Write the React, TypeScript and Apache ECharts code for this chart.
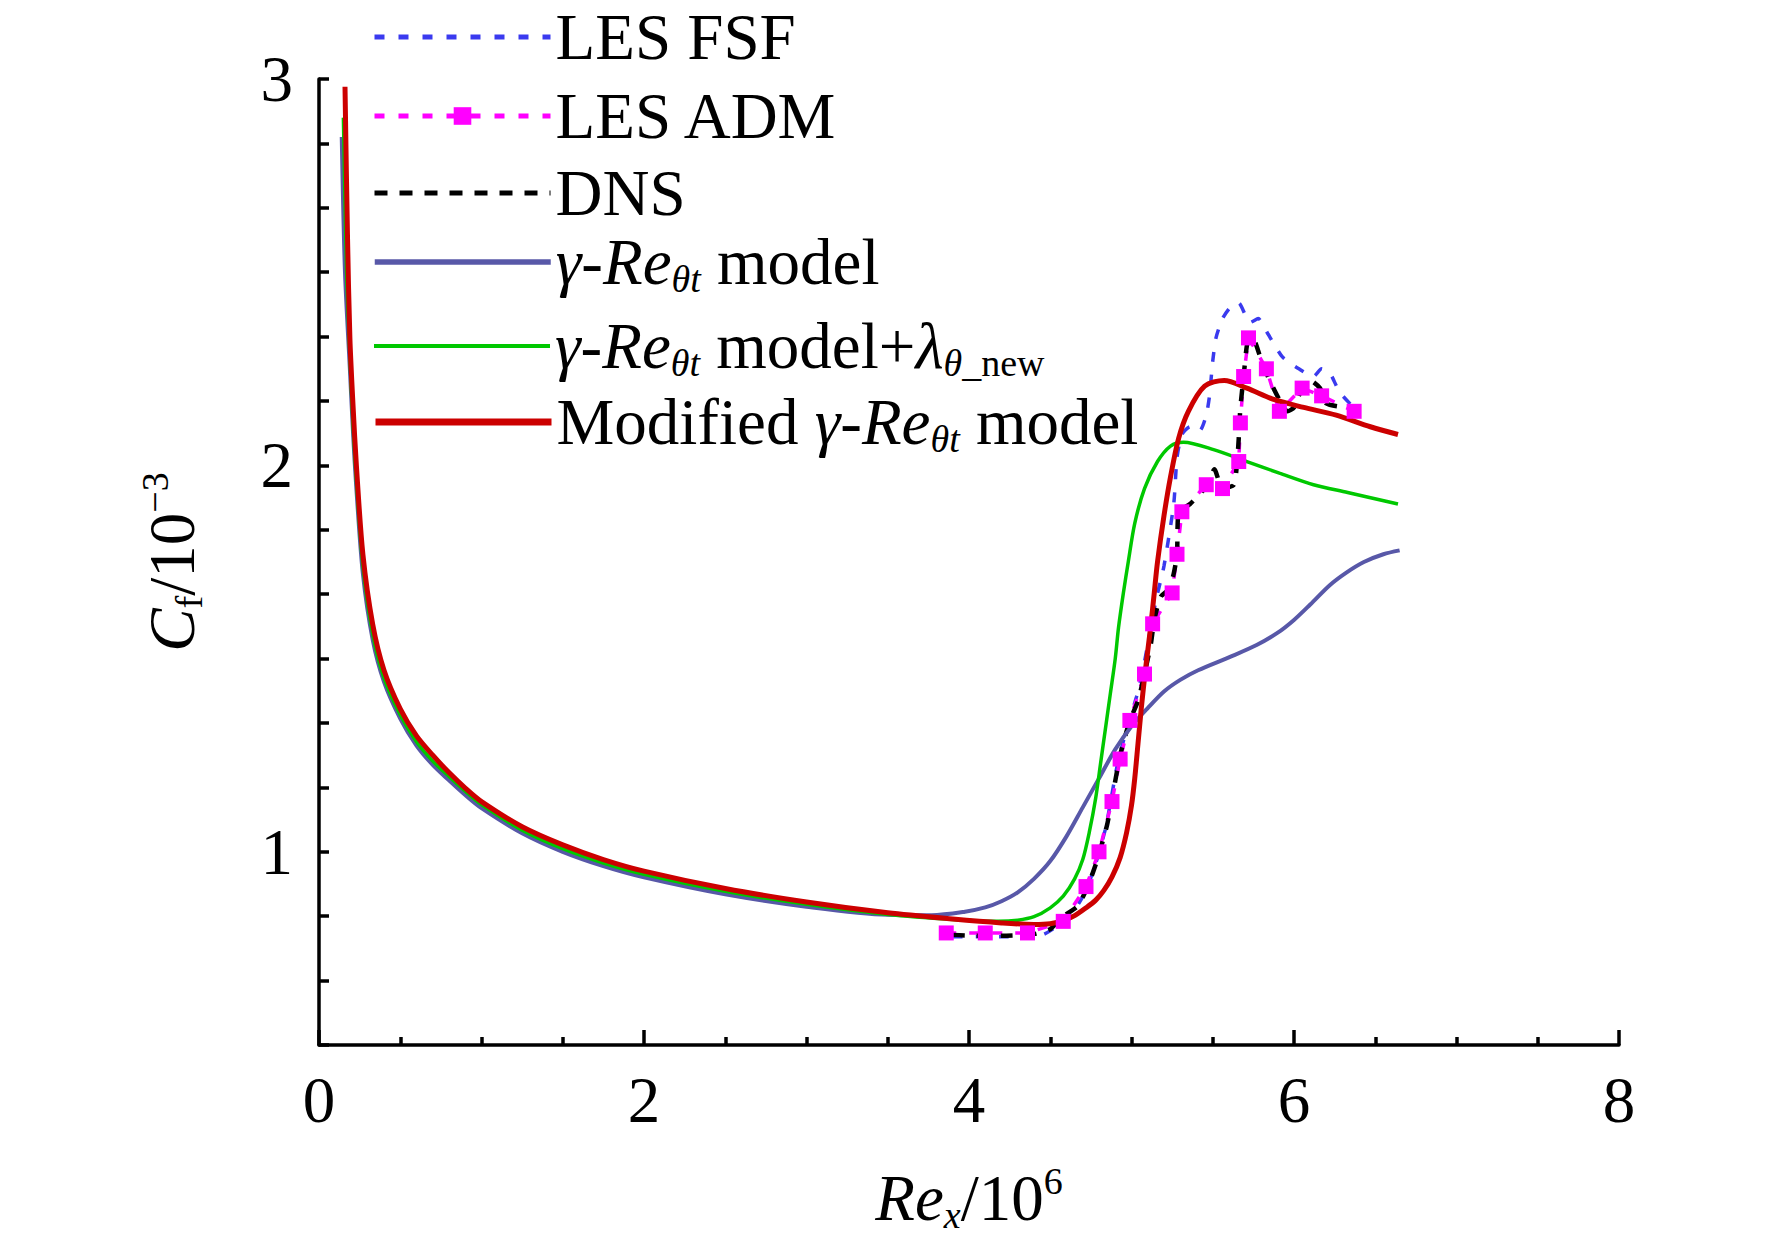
import React, { useEffect, useRef } from 'react';
import * as echarts from 'echarts/core';
import type { ECharts, EChartsCoreOption } from 'echarts/core';
import { LineChart } from 'echarts/charts';
import { GridComponent, LegendComponent } from 'echarts/components';
import { SVGRenderer } from 'echarts/renderers';

echarts.use([LineChart, GridComponent, LegendComponent, SVGRenderer]);

// 数据 (Re_x/10^6, Cf/10^-3)
const lesFsf: [number, number][] = [
  [3.9, 0.78], [4.2, 0.78], [4.45, 0.785], [4.55, 0.81], [4.65, 0.85], [4.72, 0.9],
  [4.78, 0.97], [4.84, 1.06], [4.88, 1.15], [4.92, 1.24], [4.98, 1.33], [5.03, 1.4],
  [5.07, 1.47], [5.11, 1.56], [5.15, 1.65], [5.2, 1.74], [5.26, 1.9], [5.28, 2.02],
  [5.31, 2.08], [5.36, 2.1], [5.42, 2.09], [5.46, 2.13], [5.48, 2.18], [5.5, 2.27],
  [5.52, 2.33], [5.56, 2.38], [5.61, 2.41], [5.66, 2.42], [5.7, 2.39], [5.73, 2.37],
  [5.78, 2.38], [5.84, 2.34], [5.93, 2.28], [6.03, 2.25], [6.12, 2.23], [6.17, 2.25],
  [6.22, 2.24], [6.28, 2.19], [6.39, 2.14],
];

const lesAdm: [number, number][] = [
  [3.86, 0.79], [4.1, 0.79], [4.36, 0.79], [4.58, 0.82], [4.72, 0.91], [4.8, 1.0],
  [4.88, 1.13], [4.93, 1.24], [4.99, 1.34], [5.08, 1.46], [5.13, 1.59], [5.25, 1.67],
  [5.28, 1.77], [5.31, 1.88], [5.46, 1.95], [5.56, 1.94], [5.66, 2.01], [5.67, 2.11],
  [5.69, 2.23], [5.72, 2.33], [5.83, 2.25], [5.91, 2.14], [6.05, 2.2], [6.17, 2.18],
  [6.37, 2.14],
];

const dns: [number, number][] = [
  [3.9, 0.785], [4.0, 0.783], [4.2, 0.783], [4.4, 0.787], [4.5, 0.8], [4.57, 0.83],
  [4.67, 0.86], [4.73, 0.91], [4.79, 0.98], [4.85, 1.07], [4.89, 1.16], [4.93, 1.25],
  [4.99, 1.34], [5.04, 1.39], [5.08, 1.46], [5.12, 1.54], [5.14, 1.6], [5.18, 1.66],
  [5.23, 1.68], [5.26, 1.72], [5.28, 1.77], [5.29, 1.88], [5.36, 1.9], [5.47, 1.95],
  [5.51, 1.99], [5.56, 1.94], [5.63, 1.95], [5.65, 2.01], [5.66, 2.07], [5.67, 2.15],
  [5.69, 2.23], [5.71, 2.31], [5.73, 2.33], [5.76, 2.32], [5.8, 2.27], [5.85, 2.22],
  [5.91, 2.17], [5.96, 2.14], [6.0, 2.15], [6.05, 2.2], [6.1, 2.22], [6.16, 2.2],
  [6.2, 2.16], [6.31, 2.15], [6.39, 2.14], [6.43, 2.12],
];

const gammaModel: [number, number][] = [
  [0.14, 2.85], [0.16, 2.5], [0.19, 2.25], [0.21, 2.08], [0.23, 1.94], [0.27, 1.72],
  [0.33, 1.55], [0.4, 1.44], [0.5, 1.345], [0.6, 1.275], [0.7, 1.225], [0.8, 1.185],
  [0.9, 1.147], [1.0, 1.113], [1.25, 1.048], [1.5, 1.0], [1.75, 0.963], [2.0, 0.934],
  [2.5, 0.89], [3.0, 0.858], [3.5, 0.837], [3.77, 0.836], [3.975, 0.845], [4.1, 0.856],
  [4.2, 0.872], [4.3, 0.895], [4.4, 0.93], [4.5, 0.976], [4.6, 1.04], [4.7, 1.115],
  [4.8, 1.19], [4.9, 1.265], [5.0, 1.325], [5.1, 1.372], [5.2, 1.415], [5.3, 1.445],
  [5.41, 1.47], [5.61, 1.505], [5.77, 1.535], [5.9, 1.567], [6.0, 1.6], [6.1, 1.64],
  [6.22, 1.69], [6.32, 1.722], [6.43, 1.75], [6.55, 1.77], [6.65, 1.78],
];

const gammaLambda: [number, number][] = [
  [0.15, 2.9], [0.17, 2.5], [0.19, 2.28], [0.21, 2.1], [0.23, 1.96], [0.27, 1.74],
  [0.33, 1.565], [0.4, 1.45], [0.5, 1.355], [0.6, 1.285], [0.7, 1.235], [0.8, 1.195],
  [0.9, 1.157], [1.0, 1.122], [1.25, 1.056], [1.5, 1.008], [1.75, 0.971], [2.0, 0.942],
  [2.5, 0.898], [3.0, 0.864], [3.5, 0.838], [3.9, 0.825], [4.18, 0.82], [4.3, 0.823],
  [4.4, 0.832], [4.5, 0.855], [4.58, 0.885], [4.65, 0.93], [4.7, 0.98], [4.74, 1.05],
  [4.78, 1.14], [4.81, 1.23], [4.84, 1.32], [4.87, 1.41], [4.9, 1.5], [4.92, 1.58],
  [4.95, 1.67], [4.98, 1.75], [5.02, 1.85], [5.08, 1.94], [5.16, 2.01], [5.24, 2.05],
  [5.32, 2.06], [5.51, 2.04], [5.71, 2.01], [5.91, 1.98], [6.12, 1.95], [6.33, 1.93],
  [6.64, 1.9],
];

const modifiedModel: [number, number][] = [
  [0.16, 2.98], [0.175, 2.6], [0.19, 2.33], [0.21, 2.15], [0.23, 2.0], [0.27, 1.77],
  [0.33, 1.59], [0.4, 1.47], [0.5, 1.37], [0.6, 1.3], [0.7, 1.25], [0.8, 1.205],
  [0.9, 1.165], [1.0, 1.13], [1.25, 1.065], [1.5, 1.018], [1.75, 0.98], [2.0, 0.95],
  [2.5, 0.905], [3.0, 0.87], [3.5, 0.842], [3.9, 0.826], [4.2, 0.816], [4.4, 0.812],
  [4.5, 0.814], [4.58, 0.822], [4.65, 0.835], [4.72, 0.855], [4.78, 0.875], [4.83, 0.9],
  [4.88, 0.935], [4.93, 0.985], [4.97, 1.05], [5.0, 1.12], [5.02, 1.19], [5.04, 1.28],
  [5.06, 1.37], [5.08, 1.45], [5.1, 1.52], [5.12, 1.59], [5.14, 1.67], [5.16, 1.75],
  [5.2, 1.87], [5.24, 1.97], [5.29, 2.07], [5.35, 2.14], [5.45, 2.205], [5.57, 2.22],
  [5.71, 2.2], [5.88, 2.17], [6.06, 2.15], [6.26, 2.13], [6.47, 2.1], [6.64, 2.08],
];

const seriesNames = [
  'LES FSF',
  'LES ADM',
  'DNS',
  'γ-Reθt model',
  'γ-Reθt model+λθ_new',
  'Modified γ-Reθt model',
];

// 图例文字（富文本，斜体 + 下标）
const legendLabels = [
  'LES FSF',
  'LES ADM',
  'DNS',
  '{i|γ}-{i|Re}{sub|θt} model',
  '{i|γ}-{i|Re}{sub|θt} model+{i|λ}{sub|θ}{subr|_new}',
  'Modified {i|γ}-{i|Re}{sub|θt} model',
];

const xTicks = [0, 2, 4, 6, 8];
const yLabels = [1, 2, 3];

const FONT = '"Liberation Serif", "Times New Roman", serif';
const FS = 65;

const rich = {
  i: { fontFamily: FONT, fontSize: FS, fontStyle: 'italic', lineHeight: 72, color: '#000' },
  sub: { fontFamily: FONT, fontSize: 38, fontStyle: 'italic', verticalAlign: 'bottom', lineHeight: 26, color: '#000' },
  subr: { fontFamily: FONT, fontSize: 38, verticalAlign: 'bottom', lineHeight: 26, color: '#000' },
  sup: { fontFamily: FONT, fontSize: 38, verticalAlign: 'top', lineHeight: 30, color: '#000' },
};

const baseText = { fontFamily: FONT, fontSize: FS, lineHeight: 72, color: '#000', rich };

// 图例位置与线型（版式）
const legendTop = [4, 80, 157, 226, 310, 386];
const legendLine = [
  { width: 5, type: [10, 14] },
  { width: 5, type: [10, 14] },
  { width: 5, type: [13, 12] },
  { width: 5.5, type: 'solid' },
  { width: 4, type: 'solid' },
  { width: 7, type: 'solid' },
];

const App = () => {
  const chartRef = useRef<HTMLDivElement>(null);
  const chartInstanceRef = useRef<ECharts | null>(null);

  const getOption = (): EChartsCoreOption => {
    const lineSeries = (
      name: string,
      data: [number, number][],
      color: string,
      width: number,
      type: any = 'solid',
      smooth = 0.3,
    ) => ({
      name,
      type: 'line',
      data,
      symbol: 'none',
      smooth,
      lineStyle: { color, width, type },
      itemStyle: { color },
    });

    return {
      animation: false,
      backgroundColor: '#fff',
      grid: {
        left: 319,
        right: 153,
        top: 79,
        bottom: 206,
        containLabel: false,
        outerBoundsMode: 'none',
      },
      legend: seriesNames.map((name, k) => ({
        data: [name],
        left: 372,
        top: legendTop[k],
        orient: 'vertical',
        padding: 0,
        itemWidth: 176,
        itemHeight: 22,
        selectedMode: false,
        formatter: () => legendLabels[k],
        textStyle: k === 0 ? { ...baseText, lineHeight: 66 } : baseText,
        lineStyle: legendLine[k],
        itemStyle: k === 1 ? {} : { opacity: 0 },
      })),
      xAxis: {
        type: 'value',
        min: xTicks[0],
        max: xTicks[xTicks.length - 1],
        interval: 2,
        name: '{i|Re}{sub|x}/10{sup|6}',
        nameLocation: 'middle',
        nameGap: 117,
        nameTextStyle: baseText,
        axisLine: { show: true, onZero: false, lineStyle: { color: '#000', width: 3.5 } },
        axisTick: { show: true, inside: true, length: 15, lineStyle: { color: '#000', width: 3.5 } },
        minorTick: { show: true, splitNumber: 4, length: 8, lineStyle: { color: '#000', width: 3.5 } },
        splitLine: { show: false },
        axisLabel: {
          fontFamily: FONT,
          fontSize: FS,
          color: '#000',
          margin: 22,
        },
      },
      yAxis: {
        type: 'value',
        min: 0.5,
        max: 3,
        interval: 0.5,
        name: '{i|C}{subr|f}/10{sup|−3}',
        nameLocation: 'middle',
        nameGap: 111,
        nameTextStyle: baseText,
        axisLine: { show: true, onZero: false, lineStyle: { color: '#000', width: 3.5 } },
        axisTick: { show: true, inside: true, length: 10, lineStyle: { color: '#000', width: 3.5 } },
        minorTick: { show: true, splitNumber: 3, length: 10, lineStyle: { color: '#000', width: 3.5 } },
        splitLine: { show: false },
        axisLabel: {
          fontFamily: FONT,
          fontSize: FS,
          color: '#000',
          margin: 26,
          formatter: (v: number) => (yLabels.includes(v) ? String(v) : ''),
        },
      },
      series: [
        lineSeries(seriesNames[0], lesFsf, '#3a3aef', 3.5, [10, 13], 0.2),
        {
          name: seriesNames[1],
          type: 'line',
          data: lesAdm,
          symbol: 'rect',
          symbolSize: 15,
          lineStyle: { color: '#ff00ff', width: 3.5, type: [10, 13] },
          itemStyle: { color: '#ff00ff' },
        },
        lineSeries(seriesNames[2], dns, '#000000', 4.5, [12, 12], 0.2),
        lineSeries(seriesNames[3], gammaModel, '#5858a8', 4),
        lineSeries(seriesNames[4], gammaLambda, '#00c800', 3.5),
        lineSeries(seriesNames[5], modifiedModel, '#cc0000', 5),
      ],
    };
  };

  useEffect(() => {
    if (!chartRef.current) return;
    const chart = echarts.init(chartRef.current, undefined, { renderer: 'svg' });
    chartInstanceRef.current = chart;
    chart.setOption(getOption());

    return () => {
      chart.dispose();
      chartInstanceRef.current = null;
    };
  }, []);

  return (
    <div
      ref={chartRef}
      style={{ position: 'absolute', left: 0, top: 0, width: 1772, height: 1251 }}
    />
  );
};

export default App;
